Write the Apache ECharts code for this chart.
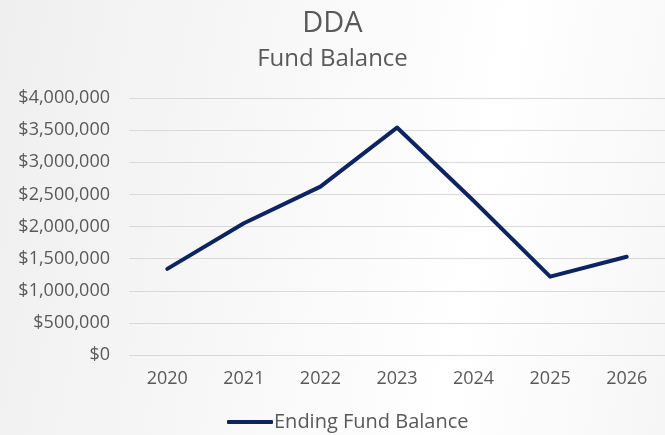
<!DOCTYPE html>
<html>
<head>
<meta charset="utf-8">
<script src="https://cdn.jsdelivr.net/npm/echarts@6/dist/echarts.min.js"></script>
<style>
html, body { margin: 0; padding: 0; }
#chart { width: 665px; height: 435px; background: linear-gradient(100deg, #efefef 0%, #f8f8f8 40%, #ffffff 70%, #f6f6f6 100%); }
</style>
</head>
<body>
<div id="chart"></div>
<script>
const years = ['2020', '2021', '2022', '2023', '2024', '2025', '2026'];
const endingBalance = [1340000, 2050000, 2620000, 3540000, 2400000, 1220000, 1530000];

const chart = echarts.init(document.getElementById('chart'));
const textColor = '#595959';
const font = '"Open Sans", "DejaVu Sans", sans-serif';

chart.setOption({
  backgroundColor: 'transparent',
  title: {
    text: 'DDA',
    subtext: 'Fund Balance',
    left: 'center',
    top: 4,
    itemGap: 9,
    textStyle: { color: textColor, fontSize: 29, fontWeight: 'normal', fontFamily: font },
    subtextStyle: { color: textColor, fontSize: 24, fontFamily: font }
  },
  legend: {
    bottom: -2,
    left: 222,
    itemWidth: 46,
    itemHeight: 4,
    itemGap: 0,
    icon: 'roundRect',
    textStyle: { color: textColor, fontSize: 20, fontFamily: font, padding: [0, 0, 0, -4] },
    data: ['Ending Fund Balance']
  },
  grid: { left: 129, right: -10, top: 98, bottom: 80 },
  xAxis: {
    type: 'category',
    data: years,
    axisLine: { show: false },
    axisTick: { show: false },
    axisLabel: { color: textColor, fontSize: 18, fontFamily: font, margin: 15 }
  },
  yAxis: {
    type: 'value',
    min: 0,
    max: 4000000,
    interval: 500000,
    axisLine: { show: false },
    axisTick: { show: false },
    splitLine: { lineStyle: { color: '#d9d9d9', width: 1 } },
    axisLabel: {
      color: textColor,
      fontSize: 18,
      fontFamily: font,
      margin: 19,
      formatter: v => '$' + v.toLocaleString('en-US')
    }
  },
  series: [{
    name: 'Ending Fund Balance',
    type: 'line',
    data: endingBalance,
    symbol: 'none',
    lineStyle: { color: '#0c2461', width: 4, cap: 'round', join: 'round' },
    itemStyle: { color: '#0c2461' }
  }]
});
</script>
</body>
</html>
